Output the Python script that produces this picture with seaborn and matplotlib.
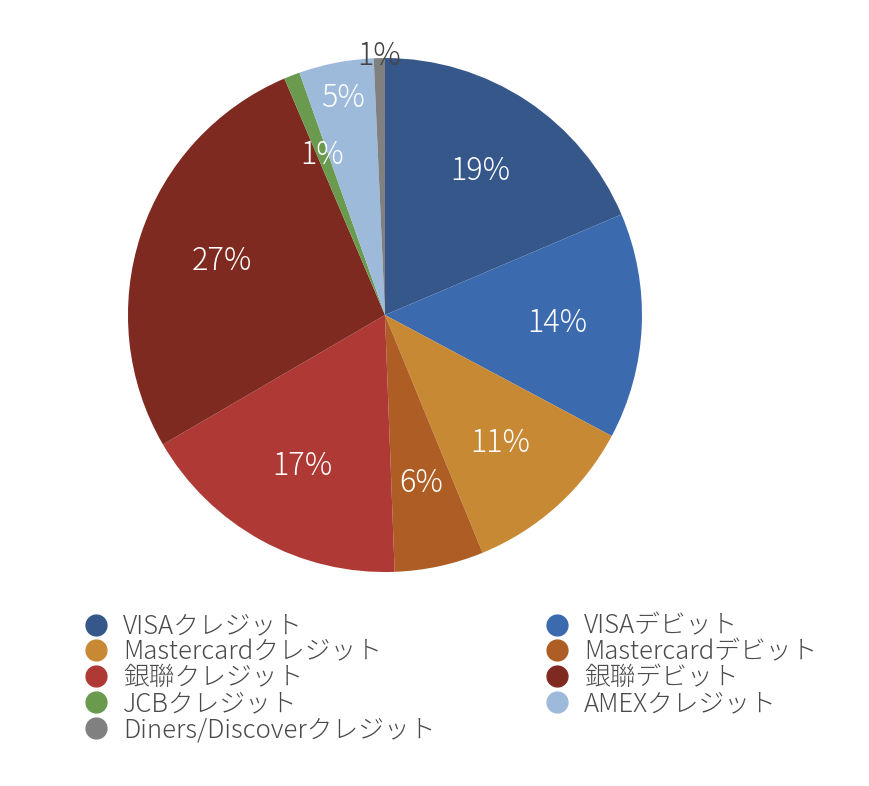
import numpy as np
import matplotlib
matplotlib.use("Agg")
import matplotlib.pyplot as plt
from matplotlib.lines import Line2D
import seaborn as sns

# Data (percent share, clockwise from 12 o'clock)
labels = ['VISAクレジット', 'VISAデビット', 'Mastercardクレジット', 'Mastercardデビット',
          '銀聯クレジット', '銀聯デビット', 'JCBクレジット', 'AMEXクレジット',
          'Diners/Discoverクレジット']
shares = [18.6, 14.2, 11.0, 5.6, 17.2, 27.0, 1.0, 4.7, 0.7]
colors = ['#36578a', '#3c6aaf', '#c88934', '#ae5e24', '#af3a35',
          '#7f2a20', '#6a9a4e', '#9dbadb', '#808080']

sns.set_theme(style='white')
plt.rcParams['font.family'] = ['Noto Sans CJK JP', 'DejaVu Sans']

palette = sns.color_palette(colors)

fig = plt.figure(figsize=(8.7, 7.86), dpi=100)
ax = fig.add_axes([0.1471, 0.2722, 0.5908, 0.654])

wedges, texts, autotexts = ax.pie(
    shares, colors=palette, startangle=90, counterclock=False,
    autopct='%1.0f%%', pctdistance=0.67,
    wedgeprops={'linewidth': 0, 'edgecolor': 'none'},
    textprops={'color': 'white', 'fontsize': 22, 'fontweight': 'light'})
ax.set_xlim(-1, 1)
ax.set_ylim(-1, 1)
ax.set_aspect('equal')
ax.axis('off')

# Push labels of the thin slices outward so they don't collide
def move_label(i, r, color=None):
    w = wedges[i]
    ang = np.deg2rad((w.theta1 + w.theta2) / 2)
    autotexts[i].set_position((r * np.cos(ang), r * np.sin(ang)))
    if color:
        autotexts[i].set_color(color)

move_label(7, 0.86)
move_label(8, 1.01, '#444444')

# Legend: two separate columns, row-major like the original
handles = [Line2D([], [], marker='o', linestyle='', markersize=15,
                  markerfacecolor=c, markeredgecolor=c) for c in colors]

def column_legend(idx, left_px):
    leg = fig.legend([handles[i] for i in idx], [labels[i] for i in idx],
                     loc='upper left', bbox_to_anchor=(left_px / 870, 1 - 613 / 786),
                     frameon=False, borderpad=0, borderaxespad=0,
                     handlelength=1.0, handletextpad=0.55, labelspacing=-0.02,
                     prop={'size': 18.5, 'weight': 'light'})
    for t in leg.get_texts():
        t.set_color('#4a4a4a')
    return leg

column_legend([0, 2, 4, 6, 8], 83)
column_legend([1, 3, 5, 7], 544)

fig.savefig('out.png', dpi=100)
